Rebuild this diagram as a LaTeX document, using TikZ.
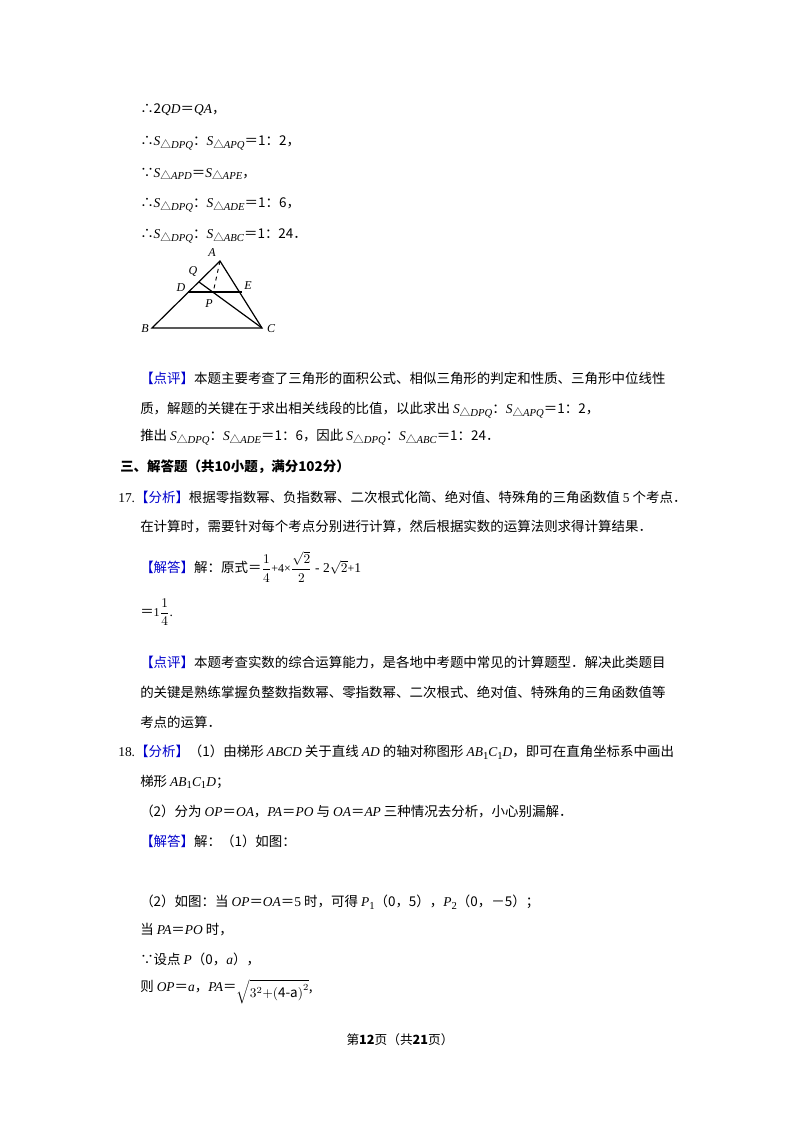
\documentclass[tikz,border=0pt]{standalone}
\usepackage{amsmath}
\usepackage{fontspec}
\setmainfont{Noto Sans CJK SC}
\newfontfamily\lat{Liberation Serif}
\newfontfamily\cjk{Noto Sans CJK SC}
\newcommand\mi[1]{{\lat\itshape #1}}
\newcommand\mr[1]{{\lat #1}}
\newcommand\sbs[1]{\raisebox{-0.35ex}{\fontsize{8pt}{8pt}\selectfont\lat\itshape #1}}
\newcommand\St[1]{\mi{S}\sbs{{\cjk\upshape △}#1}}
\newcommand\bl[1]{\textcolor{blue!80!black}{#1}}
\begin{document}
\begin{tikzpicture}[x=0.75pt,y=-0.75pt,
  txt/.style={anchor=west,inner sep=0pt,font=\fontsize{10.1pt}{12pt}\selectfont},
  lbl/.style={inner sep=0pt,font=\fontsize{9pt}{10pt}\selectfont\lat\itshape},
  edge/.style={line width=0.9pt}]
\useasboundingbox[fill=white] (0,0) rectangle (800,1132);
\node[txt] (l1) at (140,110) {∴2\mi{QD}＝\mi{QA}，};
\node[txt] (l2) at (140,143) {∴\St{DPQ}：\St{APQ}＝1：2，};
\node[txt] (l3) at (140,174) {∵\St{APD}＝\St{APE}，};
\node[txt] (l4) at (140,205) {∴\St{DPQ}：\St{ADE}＝1：6，};
\node[txt] (l5) at (140,236) {∴\St{DPQ}：\St{ABC}＝1：24．};
% triangle
\coordinate (A) at (220,261);
\coordinate (B) at (152,328);
\coordinate (C) at (262,328);
\coordinate (D) at (188,292);
\coordinate (E) at (242,292);
\coordinate (Q) at (199,282);
\coordinate (P) at (213,293);
\draw[edge] (A) -- (B) -- (C) -- cycle;
\draw[edge,line width=1.4pt] (D) -- (E);
\draw[edge] (Q) -- (C);
\draw[edge,dashed,line width=0.7pt] (A) -- (P);
\node[lbl] (nA) at (212,253) {A};
\node[lbl] (nQ) at (193,271) {Q};
\node[lbl] (nD) at (181,288) {D};
\node[lbl] (nE) at (248,286) {E};
\node[lbl] (nP) at (209,304) {P};
\node[lbl] (nB) at (145,329) {B};
\node[lbl] (nC) at (271,329) {C};
\node[txt] (l6) at (140,378) {\bl{【点评】}本题主要考查了三角形的面积公式、相似三角形的判定和性质、三角形中位线性};
\node[txt] (l7) at (140,410) {质，解题的关键在于求出相关线段的比值，以此求出 \St{DPQ}：\St{APQ}＝1：2，};
\node[txt] (l8) at (140,437) {推出 \St{DPQ}：\St{ADE}＝1：6，因此 \St{DPQ}：\St{ABC}＝1：24．};
\node[txt,font=\fontsize{10.1pt}{12pt}\selectfont\bfseries] (h1) at (120,467) {三、解答题（共10小题，满分102分）};
\node[txt] (l9) at (118,497) {\mr{17.}\bl{【分析】}根据零指数幂、负指数幂、二次根式化简、绝对值、特殊角的三角函数值 \mr{5} 个考点．};
\node[txt] (l10) at (140,527) {在计算时，需要针对每个考点分别进行计算，然后根据实数的运算法则求得计算结果．};
\node[txt] (l11) at (140,567) {\bl{【解答】}解：原式＝$\dfrac{1}{4}$\mr{{\small +4×}}$\dfrac{\sqrt{2}}{2}$\mr{ - 2}$\sqrt{2}$\mr{{\small +}1}};
\node[txt] (l12) at (140,612) {＝\mr{{\small 1}}$\dfrac{1}{4}$\mr{.}};
\node[txt] (l13) at (140,663) {\bl{【点评】}本题考查实数的综合运算能力，是各地中考题中常见的计算题型．解决此类题目};
\node[txt] (l14) at (140,692) {的关键是熟练掌握负整数指数幂、零指数幂、二次根式、绝对值、特殊角的三角函数值等};
\node[txt] (l15) at (140,722) {考点的运算．};
\node[txt] (l16) at (118,752) {\mr{18.}\bl{【分析】}（1）由梯形 \mi{ABCD} 关于直线 \mi{AD} 的轴对称图形 \mi{AB}\sbs{\upshape 1}\mi{C}\sbs{\upshape 1}\mi{D}，即可在直角坐标系中画出};
\node[txt] (l17) at (140,782) {梯形 \mi{AB}\sbs{\upshape 1}\mi{C}\sbs{\upshape 1}\mi{D}；};
\node[txt] (l18) at (140,811) {（2）分为 \mi{OP}＝\mi{OA}，\mi{PA}＝\mi{PO} 与 \mi{OA}＝\mi{AP} 三种情况去分析，小心别漏解．};
\node[txt] (l19) at (140,841) {\bl{【解答】}解：（1）如图：};
\node[txt] (l20) at (140,902) {（2）如图：当 \mi{OP}＝\mi{OA}＝\mr{5} 时，可得 \mi{P}\sbs{\upshape 1}（0，5），\mi{P}\sbs{\upshape 2}（0，－5）；};
\node[txt] (l21) at (140,930) {当 \mi{PA}＝\mi{PO} 时，};
\node[txt] (l22) at (140,959) {∵设点 \mi{P}（0，\mi{a}），};
\node[txt] (l23) at (140,992) {则 \mi{OP}＝\mi{a}，\mi{PA}＝\raisebox{-0.8ex}{$\sqrt{3^{2}\mathrm{+(4\text{-}a)}^{2}}$},};
\node[inner sep=0pt,font=\fontsize{9.5pt}{11pt}\selectfont] (ft) at (400,1040) {第\textbf{12}页（共\textbf{21}页）};
\end{tikzpicture}
\end{document}
